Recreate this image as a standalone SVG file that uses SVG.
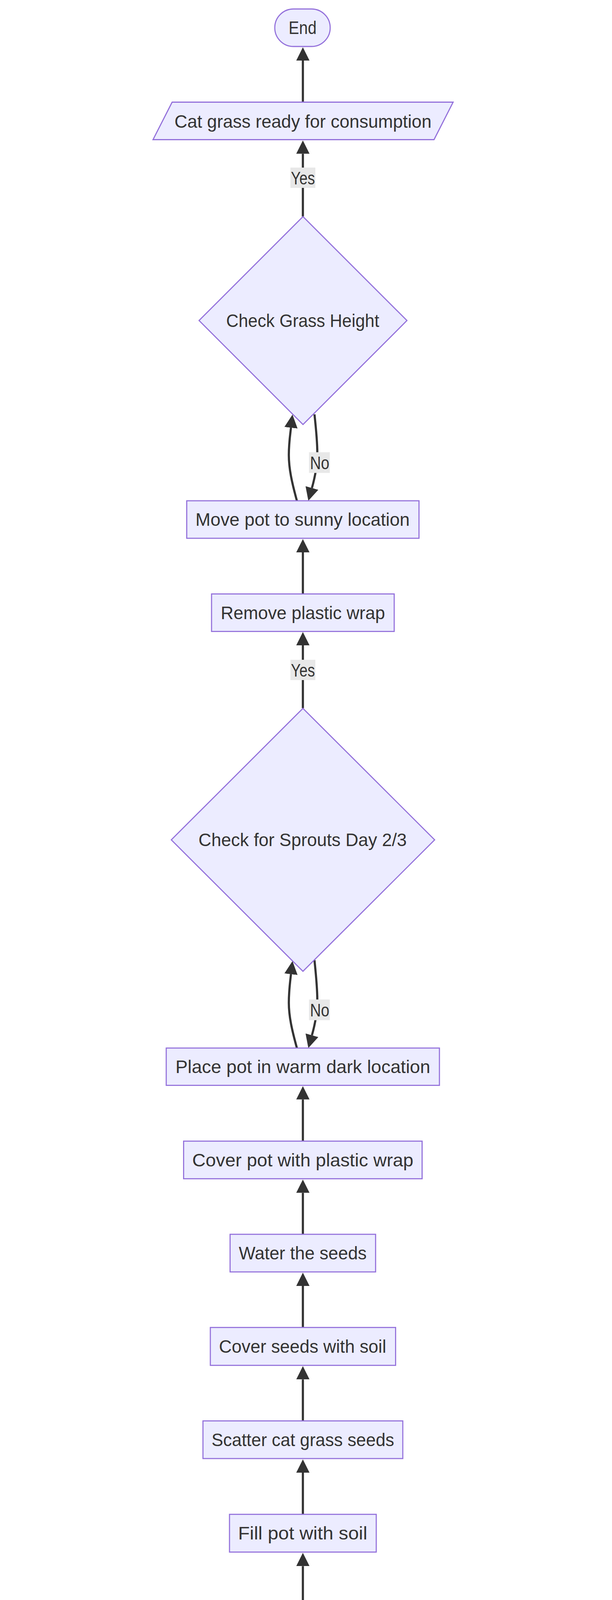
<svg xmlns="http://www.w3.org/2000/svg" width="1568" height="4520" viewBox="0 0 1568 4520">
<style>
.node{fill:#ECECFF;stroke:#9370DB;stroke-width:2.8}
.edge{fill:none;stroke:#333333;stroke-width:5.5}
.lbl{fill:#E8E8E8}
text{font-family:"Liberation Sans",Arial,sans-serif;font-size:45.5px;fill:#333333;text-anchor:middle}
</style>
<defs>
<marker id="arrow" markerUnits="userSpaceOnUse" markerWidth="34" markerHeight="34" viewBox="0 0 34 34" refX="0" refY="17" orient="auto">
<path d="M0,0 L34,17 L0,34 z" fill="#333333"/>
</marker>
</defs>
<rect width="1568" height="4520" fill="#ffffff"/>
<g id="connectors">
<path class="edge" marker-end="url(#arrow)" d="M776,4354 L776,4248"/>
<path class="edge" marker-end="url(#arrow)" d="M776,4115.6 L776,4009.3"/>
<path class="edge" marker-end="url(#arrow)" d="M776,3876.7 L776,3770"/>
<path class="edge" marker-end="url(#arrow)" d="M776,3637.5 L776,3531.3"/>
<path class="edge" marker-end="url(#arrow)" d="M776,3398.3 L776,3292"/>
<path class="edge" marker-end="url(#arrow)" d="M776,3160 L776,3053.6"/>
<path class="edge" marker-end="url(#arrow)" d="M776,2921 L776,2814.5"/>
<path class="edge" marker-end="url(#arrow)" d="M760.7,2683 C748,2637 740,2602 740,2567 C740,2537 743.2,2514 745.5,2494"/>
<path class="edge" marker-end="url(#arrow)" d="M805.7,2458 C810,2499 813,2530 813,2561 C813,2596 806,2626 799.2,2650.2"/>
<path class="edge" marker-end="url(#arrow)" d="M776,1813 L776,1652"/>
<path class="edge" marker-end="url(#arrow)" d="M776,1520.5 L776,1414"/>
<path class="edge" marker-end="url(#arrow)" d="M760.7,1282 C748,1236 740,1200 740,1165 C740,1135 743.2,1115 745.5,1095"/>
<path class="edge" marker-end="url(#arrow)" d="M805.7,1060.7 C810,1100 813,1130 813,1160 C813,1195 806,1225 799.2,1249.2"/>
<path class="edge" marker-end="url(#arrow)" d="M776,554.5 L776,393.5"/>
<path class="edge" marker-end="url(#arrow)" d="M776,261.5 L776,155"/>
<g id="edge-labels">
<rect class="lbl" x="744" y="429" width="64" height="52"/>
<text x="776" y="471.5" textLength="61.7" lengthAdjust="spacingAndGlyphs">Yes</text>
<rect class="lbl" x="791.7" y="1157.7" width="53.3" height="53"/>
<text x="819" y="1200.7" textLength="49.7" lengthAdjust="spacingAndGlyphs">No</text>
<rect class="lbl" x="744" y="1689" width="64" height="52"/>
<text x="776" y="1731.5" textLength="61.7" lengthAdjust="spacingAndGlyphs">Yes</text>
<rect class="lbl" x="791.7" y="2558.7" width="53.3" height="53"/>
<text x="819" y="2601.7" textLength="49.7" lengthAdjust="spacingAndGlyphs">No</text>
</g>
</g>
<g id="end">
<rect class="node" x="704" y="23" width="142" height="96" rx="48" ry="48"/>
<text x="775.3" y="87.3" textLength="71.5" lengthAdjust="spacingAndGlyphs">End</text>
</g>
<g id="cat-grass-ready">
<polygon class="node" points="441,261.5 1161,261.5 1112,357.5 392,357.5"/>
<text x="776.3" y="326.8" textLength="658.5" lengthAdjust="spacingAndGlyphs">Cat grass ready for consumption</text>
</g>
<g id="check-grass-height">
<polygon class="node" points="776.3,554.5 1042.6,820.6 776.3,1086.7 510,820.6"/>
<text x="775.6" y="836.9" textLength="392" lengthAdjust="spacingAndGlyphs">Check Grass Height</text>
</g>
<g id="move-pot">
<rect class="node" x="478.4" y="1282" width="595.1" height="96"/>
<text x="775.3" y="1346.3" textLength="549" lengthAdjust="spacingAndGlyphs">Move pot to sunny location</text>
</g>
<g id="remove-wrap">
<rect class="node" x="542" y="1520.5" width="468" height="96"/>
<text x="775.9" y="1584.8" textLength="421" lengthAdjust="spacingAndGlyphs">Remove plastic wrap</text>
</g>
<g id="check-sprouts">
<polygon class="node" points="776.2,1813.4 1113.6,2150 776.2,2486.6 438.9,2150"/>
<text x="775.3" y="2166.3" textLength="533.4" lengthAdjust="spacingAndGlyphs">Check for Sprouts Day 2/3</text>
</g>
<g id="place-pot">
<rect class="node" x="425.9" y="2683" width="700" height="95.5"/>
<text x="775.9" y="2747" textLength="653" lengthAdjust="spacingAndGlyphs">Place pot in warm dark location</text>
</g>
<g id="cover-pot">
<rect class="node" x="470.4" y="2921.3" width="611.1" height="96.3"/>
<text x="775.9" y="2985.8" textLength="566.7" lengthAdjust="spacingAndGlyphs">Cover pot with plastic wrap</text>
</g>
<g id="water-seeds">
<rect class="node" x="589.5" y="3159.8" width="372.8" height="96.3"/>
<text x="775.6" y="3224.3" textLength="327.8" lengthAdjust="spacingAndGlyphs">Water the seeds</text>
</g>
<g id="cover-seeds">
<rect class="node" x="538.9" y="3398.3" width="474.7" height="97"/>
<text x="775.3" y="3463.1" textLength="428.4" lengthAdjust="spacingAndGlyphs">Cover seeds with soil</text>
</g>
<g id="scatter-seeds">
<rect class="node" x="520" y="3637.5" width="512" height="96.4"/>
<text x="776" y="3702" textLength="468" lengthAdjust="spacingAndGlyphs">Scatter cat grass seeds</text>
</g>
<g id="fill-pot">
<rect class="node" x="588" y="3876.7" width="376" height="96.6"/>
<text x="775.5" y="3941.3" textLength="331" lengthAdjust="spacingAndGlyphs">Fill pot with soil</text>
</g>
<g id="materials">
<polygon class="node" points="71,4115.6 1529,4115.6 1481,4212.2 23,4212.2"/>
<text x="776" y="4180.2" textLength="1398" lengthAdjust="spacingAndGlyphs">Small pot, Organic potting soil, Cat grass seeds, Plastic wrap, Water</text>
</g>
<g id="start">
<rect class="node" x="692" y="4354.4" width="166" height="96.6" rx="48.3" ry="48.3"/>
<text x="776" y="4419" textLength="98" lengthAdjust="spacingAndGlyphs">Start</text>
</g>
</svg>
